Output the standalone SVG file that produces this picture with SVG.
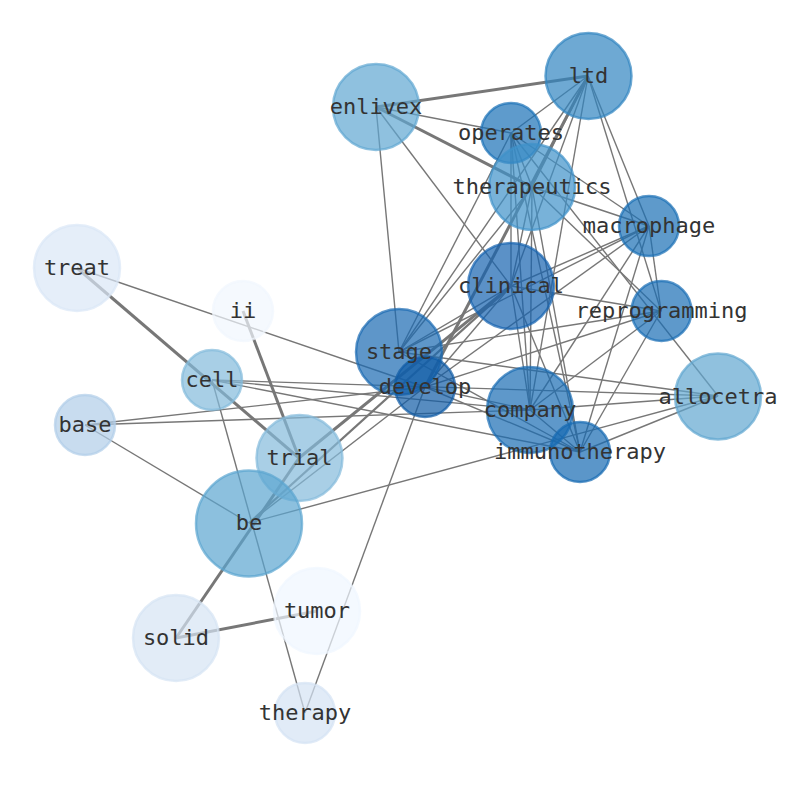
<svg xmlns="http://www.w3.org/2000/svg" width="794" height="790" viewBox="0 0 794 790">
<style>
.e{stroke:#777;stroke-width:1.4;fill:none}
.k{stroke:#777;stroke-width:3;fill:none}
.m{stroke:#777;stroke-width:2.2;fill:none}
circle{fill-opacity:0.7;stroke-opacity:0.7;stroke-width:2.5}
text{font-family:"DejaVu Sans Mono","Liberation Mono",monospace;font-size:22px;fill:#333;text-anchor:middle}
</style>
<rect width="794" height="790" fill="#fff"/>
<g id="edges">
<!-- thick -->
<line class="k" x1="376" y1="107" x2="588" y2="76"/>
<line class="k" x1="376" y1="107" x2="532" y2="187"/>
<line class="k" x1="77" y1="268" x2="299" y2="458"/>
<line class="k" x1="243" y1="311" x2="299" y2="458"/>
<line class="k" x1="176" y1="638" x2="299" y2="458"/>
<line class="k" x1="176" y1="638" x2="317" y2="611"/>
<line class="k" x1="299" y1="458" x2="511" y2="286"/>
<line class="k" x1="588" y1="76" x2="425" y2="387"/>
<line class="m" x1="249" y1="523" x2="511" y2="286"/>
<!-- enlivex -->
<line class="e" x1="376" y1="107" x2="511" y2="133"/>
<line class="e" x1="376" y1="107" x2="399" y2="352"/>
<line class="e" x1="376" y1="107" x2="511" y2="286"/>
<!-- ltd -->
<line class="e" x1="588" y1="76" x2="511" y2="133"/>
<line class="e" x1="588" y1="76" x2="532" y2="187"/>
<line class="e" x1="588" y1="76" x2="511" y2="286"/>
<line class="e" x1="588" y1="76" x2="399" y2="352"/>
<line class="e" x1="588" y1="76" x2="530" y2="410"/>
<line class="e" x1="588" y1="76" x2="649" y2="226"/>
<line class="e" x1="588" y1="76" x2="661" y2="311"/>
<!-- operates -->
<line class="e" x1="511" y1="133" x2="532" y2="187"/>
<line class="e" x1="511" y1="133" x2="511" y2="286"/>
<line class="e" x1="511" y1="133" x2="649" y2="226"/>
<line class="e" x1="511" y1="133" x2="399" y2="352"/>
<line class="e" x1="511" y1="133" x2="530" y2="410"/>
<line class="e" x1="511" y1="133" x2="580" y2="452"/>
<line class="e" x1="511" y1="133" x2="718" y2="396"/>
<!-- therapeutics -->
<line class="e" x1="532" y1="187" x2="649" y2="226"/>
<line class="e" x1="532" y1="187" x2="661" y2="311"/>
<line class="e" x1="532" y1="187" x2="511" y2="286"/>
<line class="e" x1="532" y1="187" x2="399" y2="352"/>
<line class="e" x1="532" y1="187" x2="530" y2="410"/>
<line class="e" x1="532" y1="187" x2="580" y2="452"/>
<!-- macrophage -->
<line class="e" x1="649" y1="226" x2="511" y2="286"/>
<line class="e" x1="649" y1="226" x2="399" y2="352"/>
<line class="e" x1="649" y1="226" x2="425" y2="387"/>
<line class="e" x1="649" y1="226" x2="661" y2="311"/>
<line class="e" x1="649" y1="226" x2="530" y2="410"/>
<line class="e" x1="649" y1="226" x2="580" y2="452"/>
<!-- clinical -->
<line class="e" x1="511" y1="286" x2="661" y2="311"/>
<line class="e" x1="511" y1="286" x2="530" y2="410"/>
<line class="e" x1="511" y1="286" x2="580" y2="452"/>
<line class="e" x1="511" y1="286" x2="399" y2="352"/>
<line class="e" x1="511" y1="286" x2="425" y2="387"/>
<!-- reprogramming -->
<line class="e" x1="661" y1="311" x2="399" y2="352"/>
<line class="e" x1="661" y1="311" x2="425" y2="387"/>
<line class="e" x1="661" y1="311" x2="530" y2="410"/>
<line class="e" x1="661" y1="311" x2="580" y2="452"/>
<!-- stage / develop -->
<line class="e" x1="399" y1="352" x2="718" y2="396"/>
<line class="e" x1="399" y1="352" x2="580" y2="452"/>
<line class="e" x1="425" y1="387" x2="530" y2="410"/>
<line class="e" x1="425" y1="387" x2="580" y2="452"/>
<line class="e" x1="77" y1="268" x2="425" y2="387"/>
<!-- company / immunotherapy / allocetra -->
<line class="e" x1="530" y1="410" x2="718" y2="396"/>
<line class="e" x1="530" y1="410" x2="580" y2="452"/>
<line class="e" x1="580" y1="452" x2="718" y2="396"/>
<!-- cell -->
<line class="e" x1="212" y1="380" x2="718" y2="396"/>
<line class="e" x1="212" y1="380" x2="530" y2="410"/>
<line class="e" x1="212" y1="380" x2="580" y2="452"/>
<line class="e" x1="212" y1="380" x2="305" y2="713"/>
<!-- base -->
<line class="e" x1="85" y1="425" x2="425" y2="387"/>
<line class="e" x1="85" y1="425" x2="530" y2="410"/>
<line class="e" x1="85" y1="425" x2="249" y2="523"/>
<!-- be / therapy -->
<line class="e" x1="249" y1="523" x2="425" y2="387"/>
<line class="e" x1="249" y1="523" x2="718" y2="396"/>
<line class="e" x1="305" y1="713" x2="425" y2="387"/>
</g>
<g id="node-treat"><circle cx="77" cy="268" r="43" fill="#dae7f6" stroke="#dae7f6"/></g>
<g id="node-ii"><circle cx="243" cy="311" r="30" fill="#f1f7fe" stroke="#f1f7fe"/></g>
<g id="node-cell"><circle cx="212" cy="380" r="30" fill="#83bbdb" stroke="#83bbdb"/></g>
<g id="node-base"><circle cx="85" cy="425" r="30" fill="#b0cde8" stroke="#b0cde8"/></g>
<g id="node-trial"><circle cx="299.5" cy="458" r="43" fill="#84bbdb" stroke="#84bbdb"/></g>
<g id="node-be"><circle cx="249" cy="523.5" r="53" fill="#5ba5d0" stroke="#5ba5d0"/></g>
<g id="node-solid"><circle cx="176" cy="638" r="43" fill="#d6e4f4" stroke="#d6e4f4"/></g>
<g id="node-tumor"><circle cx="317" cy="611" r="43" fill="#eff6ff" stroke="#eff6ff"/></g>
<g id="node-therapy"><circle cx="305" cy="713" r="30" fill="#d4e3f4" stroke="#d4e3f4"/></g>
<g id="node-enlivex"><circle cx="376" cy="107" r="43" fill="#5fa6d1" stroke="#5fa6d1"/></g>
<g id="node-ltd"><circle cx="588.5" cy="76" r="43" fill="#3184c0" stroke="#3184c0"/></g>
<g id="node-operates"><circle cx="511" cy="133" r="30" fill="#1a70b6" stroke="#1a70b6"/></g>
<g id="node-therapeutics"><circle cx="532" cy="187" r="43" fill="#3e91c9" stroke="#3e91c9"/></g>
<g id="node-macrophage"><circle cx="649" cy="226" r="30" fill="#1a6fb5" stroke="#1a6fb5"/></g>
<g id="node-clinical"><circle cx="511" cy="286" r="43" fill="#1563af" stroke="#1563af"/></g>
<g id="node-reprogramming"><circle cx="661.5" cy="311" r="30" fill="#1a6db5" stroke="#1a6db5"/></g>
<g id="node-stage"><circle cx="399" cy="352" r="43" fill="#1a69b2" stroke="#1a69b2"/></g>
<g id="node-develop"><circle cx="425" cy="387" r="30" fill="#0f5ba5" stroke="#0f5ba5"/></g>
<g id="node-company"><circle cx="530" cy="410" r="43" fill="#1a6cb3" stroke="#1a6cb3"/></g>
<g id="node-immunotherapy"><circle cx="580" cy="452" r="30" fill="#1669b2" stroke="#1669b2"/></g>
<g id="node-allocetra"><circle cx="718" cy="396.5" r="43" fill="#61a6d0" stroke="#61a6d0"/></g>
<g id="labels">
<text x="77" y="275">treat</text>
<text x="243" y="318">ii</text>
<text x="212" y="387">cell</text>
<text x="85" y="432">base</text>
<text x="299.5" y="465">trial</text>
<text x="249" y="530">be</text>
<text x="176" y="645">solid</text>
<text x="317" y="618">tumor</text>
<text x="305" y="720">therapy</text>
<text x="376" y="114">enlivex</text>
<text x="588.5" y="83">ltd</text>
<text x="511" y="140">operates</text>
<text x="532" y="194">therapeutics</text>
<text x="649" y="233">macrophage</text>
<text x="511" y="293">clinical</text>
<text x="661.5" y="318">reprogramming</text>
<text x="399" y="359">stage</text>
<text x="425" y="394">develop</text>
<text x="530" y="417">company</text>
<text x="580" y="459">immunotherapy</text>
<text x="718" y="403.5">allocetra</text>
</g>
</svg>
